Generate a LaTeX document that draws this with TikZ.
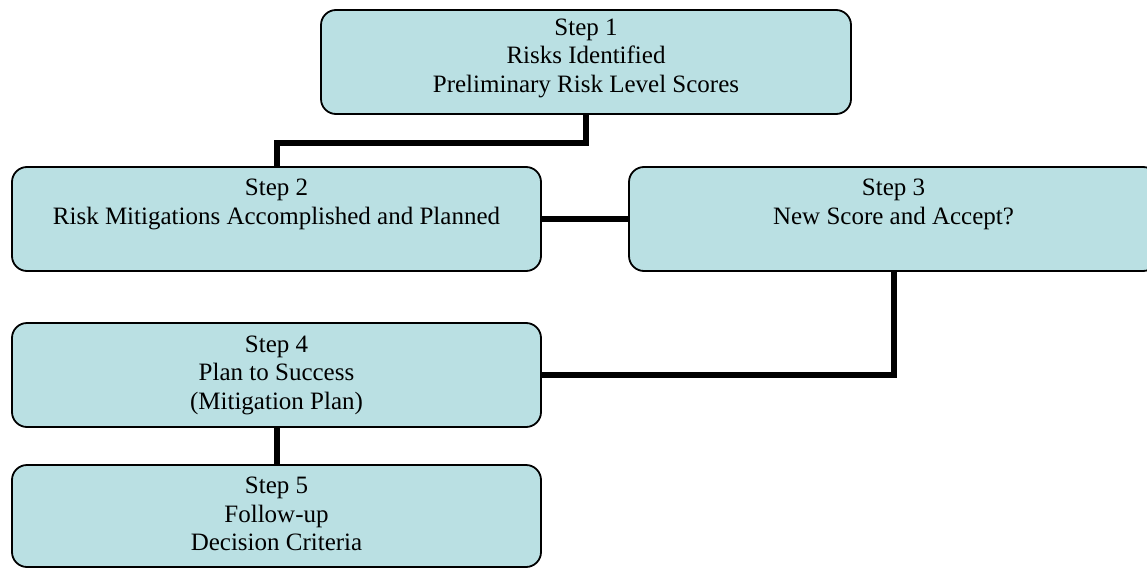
\documentclass[tikz,border=0pt]{standalone}
\usepackage{fontspec}
\setmainfont{Liberation Serif}
\definecolor{boxfill}{RGB}{186,224,227}
\tikzset{
  stepbox/.style={draw=black, line width=1.8pt, fill=boxfill, rounded corners=15pt,
    minimum width=529pt, minimum height=104pt, inner sep=0pt, align=center,
    font=\fontsize{25}{28.5}\selectfont},
  link/.style={line width=6pt, draw=black}
}
\begin{document}
\begin{tikzpicture}[x=1pt,y=-1pt]
\useasboundingbox (0,0) rectangle (1147,567);
\node[stepbox, minimum width=530pt] (b1) at (586,62) {Step 1\\Risks Identified\\Preliminary Risk Level Scores\\[-15pt]\mbox{}};
\node[stepbox] (b2) at (276.5,219) {Step 2\\Risk Mitigations Accomplished and Planned\\[6pt]\mbox{}};
\node[stepbox] (b3) at (893.5,219) {Step 3\\New Score and Accept?\\[6pt]\mbox{}};
\node[stepbox] (b4) at (276.5,375) {Step 4\\Plan to Success\\(Mitigation Plan)\\[-23pt]\mbox{}};
\node[stepbox, minimum height=102pt] (b5) at (276.5,516) {Step 5\\Follow-up\\Decision Criteria\\[-24pt]\mbox{}};
\draw[link] (b1.south) -- ++(0,28) -| (b2.north);
\draw[link] (b2.east) -- (b3.west);
\draw[link] (b3.south) |- (b4.east);
\draw[link] (b4.south) -- (b5.north);
\end{tikzpicture}
\end{document}
